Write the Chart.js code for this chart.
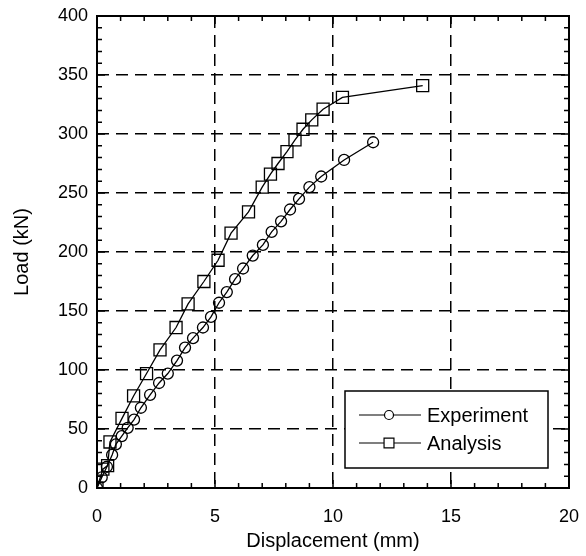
<!DOCTYPE html>
<html>
<head>
<meta charset="utf-8">
<script src="https://cdn.jsdelivr.net/npm/chart.js@4"></script>
<style>
  html, body { margin: 0; padding: 0; background: #fff; }
  #wrap { width: 586px; height: 556px; }
</style>
</head>
<body>
<div id="wrap"><canvas id="loadChart" width="586" height="556"></canvas></div>
<script>
// Load vs displacement, test and FE analysis
const expDisp = [0, 0.2, 0.42, 0.64, 0.8, 1.05, 1.3, 1.57, 1.86, 2.25, 2.63, 3.0, 3.39, 3.73, 4.07, 4.49, 4.83, 5.17, 5.5, 5.85, 6.19, 6.6, 7.03, 7.4, 7.8, 8.18, 8.56, 9.0, 9.5, 10.47, 11.7];
const expLoad = [0, 9, 18, 28, 37, 44, 51, 58, 68, 79, 89, 97, 108, 119, 127, 136, 145, 157, 166, 177, 186, 197, 206, 217, 226, 236, 245, 255, 264, 278, 293];

const anaDisp = [0, 0.25, 0.45, 0.55, 1.06, 1.55, 2.1, 2.67, 3.35, 3.86, 4.53, 5.13, 5.68, 6.42, 7.0, 7.35, 7.67, 8.05, 8.39, 8.73, 9.1, 9.58, 10.4, 13.8];
const anaLoad = [0, 16, 19, 39, 59, 78, 97, 117, 136, 156, 175, 193, 216, 234, 255, 266, 275, 285, 295, 304, 312, 321, 331, 341];

const xTicks = [0, 5, 10, 15, 20];
const yTicks = [0, 50, 100, 150, 200, 250, 300, 350, 400];

const toPoints = (xs, ys) => xs.map((x, i) => ({ x: x, y: ys[i] }));

const FONT = 'Liberation Sans, Arial, Helvetica, sans-serif';

// frame, inward ticks and boxed legend
const framePlugin = {
    id: 'frame',
    afterDraw(chart) {
        const ctx = chart.ctx;
        const xs = chart.scales.x, ys = chart.scales.y;
        const a = chart.chartArea;
        ctx.save();
        ctx.strokeStyle = '#000';
        ctx.lineWidth = 1.5;
        ctx.beginPath();
        for (let v = xs.min; v <= xs.max; v += 1) {
            const px = xs.getPixelForValue(v);
            const len = v % 5 === 0 ? 8 : 5;
            ctx.moveTo(px, a.bottom); ctx.lineTo(px, a.bottom - len);
            ctx.moveTo(px, a.top); ctx.lineTo(px, a.top + len);
        }
        for (let v = ys.min; v <= ys.max; v += 10) {
            const py = ys.getPixelForValue(v);
            const len = v % 50 === 0 ? 8 : 5;
            ctx.moveTo(a.left, py); ctx.lineTo(a.left + len, py);
            ctx.moveTo(a.right, py); ctx.lineTo(a.right - len, py);
        }
        ctx.stroke();
        ctx.lineWidth = 2;
        ctx.strokeRect(a.left, a.top, a.right - a.left, a.bottom - a.top);

        // legend
        const bx = 345, by = 391, bw = 203, bh = 77;
        ctx.fillStyle = '#fff';
        ctx.fillRect(bx, by, bw, bh);
        ctx.lineWidth = 1.5;
        ctx.strokeRect(bx, by, bw, bh);
        ctx.font = '20px ' + FONT;
        ctx.textBaseline = 'middle';
        chart.data.datasets.forEach((ds, i) => {
            const ly = by + 24 + i * 28;
            ctx.strokeStyle = '#000';
            ctx.lineWidth = 1.2;
            ctx.beginPath();
            ctx.moveTo(bx + 14, ly); ctx.lineTo(bx + 76, ly);
            ctx.stroke();
            ctx.fillStyle = '#fff';
            Chart.helpers.drawPoint(ctx, {
                pointStyle: ds.pointStyle,
                radius: ds.legendRadius,
                borderWidth: ds.pointBorderWidth
            }, bx + 44, ly);
            ctx.fillStyle = '#000';
            ctx.fillText(ds.label, bx + 82, ly + 1);
        });
        ctx.restore();
    }
};

const gridColor = c => (c.tick && (c.tick.value === c.scale.min || c.tick.value === c.scale.max)) ? 'rgba(0,0,0,0)' : '#000';

new Chart(document.getElementById('loadChart'), {
    type: 'scatter',
    data: {
        datasets: [{
            label: 'Experiment',
            data: toPoints(expDisp, expLoad),
            showLine: true,
            borderColor: '#000',
            borderWidth: 1.3,
            pointStyle: 'circle',
            pointRadius: 5.5,
            legendRadius: 4.5,
            pointBorderWidth: 1.3,
            pointBackgroundColor: 'rgba(0,0,0,0)',
            pointBorderColor: '#000'
        }, {
            label: 'Analysis',
            data: toPoints(anaDisp, anaLoad),
            showLine: true,
            borderColor: '#000',
            borderWidth: 1.3,
            pointStyle: 'rect',
            pointRadius: 8.5,
            legendRadius: 7,
            pointBorderWidth: 1.3,
            pointBackgroundColor: 'rgba(0,0,0,0)',
            pointBorderColor: '#000'
        }]
    },
    options: {
        responsive: false,
        animation: false,
        layout: { padding: { top: 16, right: 17, left: 0, bottom: 0 } },
        plugins: { legend: { display: false }, tooltip: { enabled: false } },
        scales: {
            x: {
                type: 'linear',
                min: 0, max: 20,
                afterBuildTicks: s => { s.ticks = xTicks.map(v => ({ value: v })); },
                afterFit: s => { s.height = 68; s.paddingLeft = 0; s.paddingRight = 0; },
                grid: { color: gridColor, lineWidth: 1.5, drawTicks: false },
                border: { display: false, dash: [12, 7] },
                ticks: { color: '#000', padding: 18, font: { family: FONT, size: 18 }, maxRotation: 0 },
                title: { display: true, text: 'Displacement (mm)', color: '#000',
                         font: { family: FONT, size: 20 }, padding: { top: 0, bottom: 3 } }
            },
            y: {
                type: 'linear',
                min: 0, max: 400,
                afterBuildTicks: s => { s.ticks = yTicks.map(v => ({ value: v })); },
                afterFit: s => { s.width = 97; s.paddingTop = 0; s.paddingBottom = 0; },
                grid: { color: gridColor, lineWidth: 1.5, drawTicks: false },
                border: { display: false, dash: [12, 7] },
                ticks: { color: '#000', padding: 9, font: { family: FONT, size: 18 } },
                title: { display: true, text: 'Load (kN)', color: '#000',
                         font: { family: FONT, size: 20 }, padding: { top: 10, bottom: 0 } }
            }
        }
    },
    plugins: [framePlugin]
});
</script>
</body>
</html>
